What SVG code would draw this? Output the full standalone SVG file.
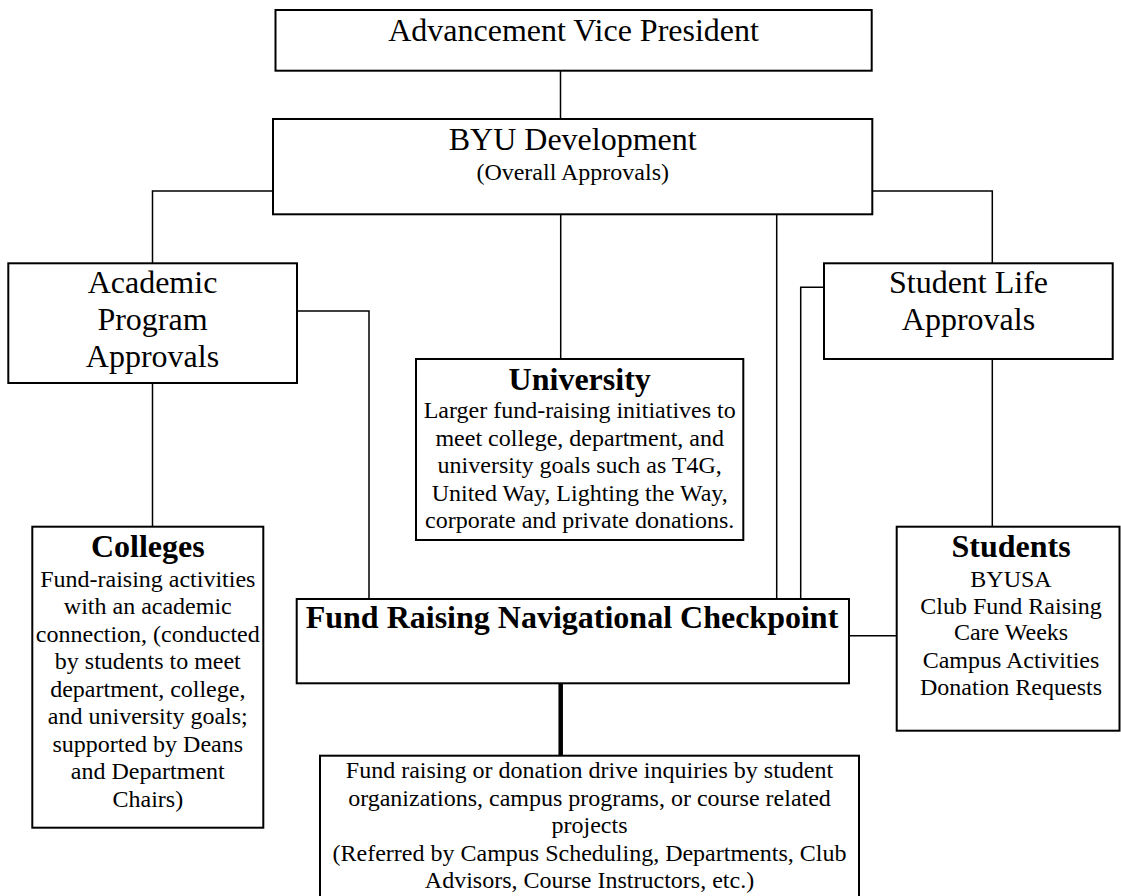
<svg xmlns="http://www.w3.org/2000/svg" width="1121" height="896" viewBox="0 0 1121 896">
<style>
.box{fill:#fff;stroke:#000;stroke-width:2}
.c{fill:none;stroke:#000;stroke-width:1.5}
.thick{fill:none;stroke:#000;stroke-width:4.5}
text{font-family:"Liberation Serif","Times New Roman",serif;fill:#000;text-anchor:middle}
.t32{font-size:32px}
.b32{font-size:32px;font-weight:bold}
.t24{font-size:24px}
</style>
<rect width="1121" height="896" fill="#fff"/>
<g id="connectors">
<line class="c" x1="560.5" y1="70.7" x2="560.5" y2="119"/>
<polyline class="c" points="273,191 152.5,191 152.5,263.3"/>
<polyline class="c" points="872.3,191 992.3,191 992.3,263.3"/>
<line class="c" x1="560.7" y1="214.3" x2="560.7" y2="359"/>
<line class="c" x1="776.7" y1="214.3" x2="776.7" y2="599"/>
<line class="c" x1="152.5" y1="383" x2="152.5" y2="526.7"/>
<polyline class="c" points="297,311 369,311 369,599"/>
<line class="c" x1="992.3" y1="359" x2="992.3" y2="526.7"/>
<polyline class="c" points="824,287.3 800.7,287.3 800.7,599"/>
<line class="c" x1="849" y1="635.7" x2="896.7" y2="635.7"/>
<line class="thick" x1="560.7" y1="683.3" x2="560.7" y2="755.7"/>
</g>
<g id="vp">
<rect class="box" x="275.5" y="10" width="596.2" height="60.7"/>
<text class="t32" x="573.6" y="40.7">Advancement Vice President</text>
</g>
<g id="byu">
<rect class="box" x="273" y="119" width="599.3" height="95.3"/>
<text class="t32" x="572.7" y="150">BYU Development</text>
<text class="t24" x="572.7" y="180">(Overall Approvals)</text>
</g>
<g id="academic">
<rect class="box" x="8.3" y="263.3" width="288.7" height="119.7"/>
<text class="t32" x="152.5" y="293.3">Academic</text>
<text class="t32" x="152.5" y="330">Program</text>
<text class="t32" x="152.5" y="366.7">Approvals</text>
</g>
<g id="studentlife">
<rect class="box" x="824" y="263.3" width="288.7" height="95.7"/>
<text class="t32" x="968.5" y="293.3">Student Life</text>
<text class="t32" x="968.5" y="330">Approvals</text>
</g>
<g id="university">
<rect class="box" x="416" y="359" width="327.3" height="181"/>
<text class="b32" x="579.7" y="390">University</text>
<text class="t24" x="579.7" y="418">Larger fund-raising initiatives to</text>
<text class="t24" x="579.7" y="445.5">meet college, department, and</text>
<text class="t24" x="579.7" y="473">university goals such as T4G,</text>
<text class="t24" x="579.7" y="500.5">United Way, Lighting the Way,</text>
<text class="t24" x="579.7" y="528">corporate and private donations.</text>
</g>
<g id="colleges">
<rect class="box" x="32.3" y="526.7" width="231" height="301"/>
<text class="b32" x="147.8" y="556.7">Colleges</text>
<text class="t24" x="147.8" y="586.7">Fund-raising activities</text>
<text class="t24" x="147.8" y="614.2">with an academic</text>
<text class="t24" x="147.8" y="641.7">connection, (conducted</text>
<text class="t24" x="147.8" y="669.2">by students to meet</text>
<text class="t24" x="147.8" y="696.7">department, college,</text>
<text class="t24" x="147.8" y="724.2">and university goals;</text>
<text class="t24" x="147.8" y="751.7">supported by Deans</text>
<text class="t24" x="147.8" y="779.2">and Department</text>
<text class="t24" x="147.8" y="806.7">Chairs)</text>
</g>
<g id="frnc">
<rect class="box" x="296.7" y="599" width="552.3" height="84.3"/>
<text class="b32" x="572" y="628.3">Fund Raising Navigational Checkpoint</text>
</g>
<g id="students">
<rect class="box" x="896.7" y="526.7" width="222.8" height="204"/>
<text class="b32" x="1011" y="556.7">Students</text>
<text class="t24" x="1011" y="586.7">BYUSA</text>
<text class="t24" x="1011" y="613.5">Club Fund Raising</text>
<text class="t24" x="1011" y="640.3">Care Weeks</text>
<text class="t24" x="1011" y="667.7">Campus Activities</text>
<text class="t24" x="1011" y="695">Donation Requests</text>
</g>
<g id="inquiries">
<rect class="box" x="320" y="755.7" width="539" height="150"/>
<text class="t24" x="589.5" y="778.3">Fund raising or donation drive inquiries by student</text>
<text class="t24" x="589.5" y="805.8">organizations, campus programs, or course related</text>
<text class="t24" x="589.5" y="833.3">projects</text>
<text class="t24" x="589.5" y="860.8">(Referred by Campus Scheduling, Departments, Club</text>
<text class="t24" x="589.5" y="888.3">Advisors, Course Instructors, etc.)</text>
</g>
</svg>
